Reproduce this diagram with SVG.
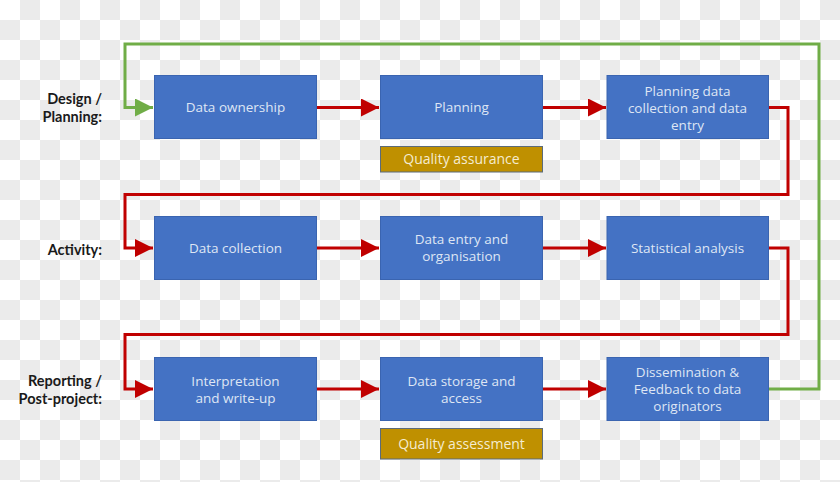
<svg xmlns="http://www.w3.org/2000/svg" width="840" height="482" viewBox="0 0 840 482">
  <defs>
    <pattern id="checker" width="40" height="40" patternUnits="userSpaceOnUse">
      <rect width="40" height="40" fill="#ffffff"/>
      <rect x="20" y="0" width="20" height="20" fill="#ebebeb"/>
      <rect x="0" y="20" width="20" height="20" fill="#ebebeb"/>
    </pattern>
    <marker id="redArrow" markerUnits="userSpaceOnUse" markerWidth="20" markerHeight="20" refX="18" refY="9" orient="auto">
      <path d="M0,0 L18,9 L0,18 z" fill="#c00000"/>
    </marker>
    <marker id="greenArrow" markerUnits="userSpaceOnUse" markerWidth="20" markerHeight="20" refX="18" refY="9" orient="auto">
      <path d="M0,0 L18,9 L0,18 z" fill="#70ad47"/>
    </marker>
  </defs>
  <style>
    .box { fill: #4472c4; stroke: #3a64b0; stroke-width: 1; }
    .qa { fill: #bf9000; stroke: #5b6b7a; stroke-width: 1; }
    .bt { font-family: "Open Sans", "DejaVu Sans", sans-serif; font-size: 13.5px; fill: #dfe6f4; text-anchor: middle; }
    .qt { font-family: "Open Sans", "DejaVu Sans", sans-serif; font-size: 14px; fill: #f5ecd0; text-anchor: middle; }
    .lbl { font-family: Lato, "Liberation Sans", sans-serif; font-size: 14.5px; font-weight: bold; fill: #1a1a1a; text-anchor: end; }
    .red { fill: none; stroke: #c00000; stroke-width: 3; }
    .green { fill: none; stroke: #70ad47; stroke-width: 3; }
  </style>
  <rect width="840" height="482" fill="url(#checker)"/>

  <g id="connectors">
    <path class="green" d="M768,389 H819 V44 H125 V107.5 H153" marker-end="url(#greenArrow)"/>
    <path class="red" d="M316,107.5 H379" marker-end="url(#redArrow)"/>
    <path class="red" d="M543,107.5 H606" marker-end="url(#redArrow)"/>
    <path class="red" d="M768,107.5 H788 V194.5 H125 V248 H153" marker-end="url(#redArrow)"/>
    <path class="red" d="M316,248 H379" marker-end="url(#redArrow)"/>
    <path class="red" d="M543,248 H606" marker-end="url(#redArrow)"/>
    <path class="red" d="M768,248 H788 V334.5 H125 V389 H153" marker-end="url(#redArrow)"/>
    <path class="red" d="M316,389 H379" marker-end="url(#redArrow)"/>
    <path class="red" d="M543,389 H606" marker-end="url(#redArrow)"/>
  </g>

  <g id="labels">
    <text class="lbl" x="102" y="104">Design /</text>
    <text class="lbl" x="102" y="122">Planning:</text>
    <text class="lbl" x="102" y="255">Activity:</text>
    <text class="lbl" x="102" y="386">Reporting /</text>
    <text class="lbl" x="102" y="404">Post-project:</text>
  </g>

  <g id="data-ownership">
    <rect class="box" x="154.5" y="75.5" width="162" height="63"/>
    <text class="bt" x="235.5" y="112">Data ownership</text>
  </g>
  <g id="planning">
    <rect class="box" x="380.5" y="75.5" width="162" height="63"/>
    <text class="bt" x="461.5" y="112">Planning</text>
  </g>
  <g id="quality-assurance">
    <rect class="qa" x="380.5" y="146.5" width="162" height="25.5"/>
    <text class="qt" x="461.5" y="164">Quality assurance</text>
  </g>
  <g id="planning-data-collection">
    <rect class="box" x="607" y="75.5" width="161.5" height="63"/>
    <text class="bt" x="687.5" y="95.5">Planning data</text>
    <text class="bt" x="687.5" y="112.5">collection and data</text>
    <text class="bt" x="687.5" y="129.5">entry</text>
  </g>

  <g id="data-collection">
    <rect class="box" x="154.5" y="216.5" width="162" height="63"/>
    <text class="bt" x="235.5" y="252.5">Data collection</text>
  </g>
  <g id="data-entry">
    <rect class="box" x="380.5" y="216.5" width="162" height="63"/>
    <text class="bt" x="461.5" y="244">Data entry and</text>
    <text class="bt" x="461.5" y="261">organisation</text>
  </g>
  <g id="statistical-analysis">
    <rect class="box" x="607" y="216.5" width="161.5" height="63"/>
    <text class="bt" x="687.5" y="252.5">Statistical analysis</text>
  </g>

  <g id="interpretation">
    <rect class="box" x="154.5" y="357.5" width="162" height="63"/>
    <text class="bt" x="235.5" y="385.5">Interpretation</text>
    <text class="bt" x="235.5" y="402.5">and write-up</text>
  </g>
  <g id="data-storage">
    <rect class="box" x="380.5" y="357.5" width="162" height="63"/>
    <text class="bt" x="461.5" y="385.5">Data storage and</text>
    <text class="bt" x="461.5" y="402.5">access</text>
  </g>
  <g id="quality-assessment">
    <rect class="qa" x="380.5" y="428.5" width="162" height="30.5"/>
    <text class="qt" x="461.5" y="448.5">Quality assessment</text>
  </g>
  <g id="dissemination">
    <rect class="box" x="607" y="357.5" width="161.5" height="63"/>
    <text class="bt" x="687.5" y="377">Dissemination &amp;</text>
    <text class="bt" x="687.5" y="394">Feedback to data</text>
    <text class="bt" x="687.5" y="411">originators</text>
  </g>
</svg>
